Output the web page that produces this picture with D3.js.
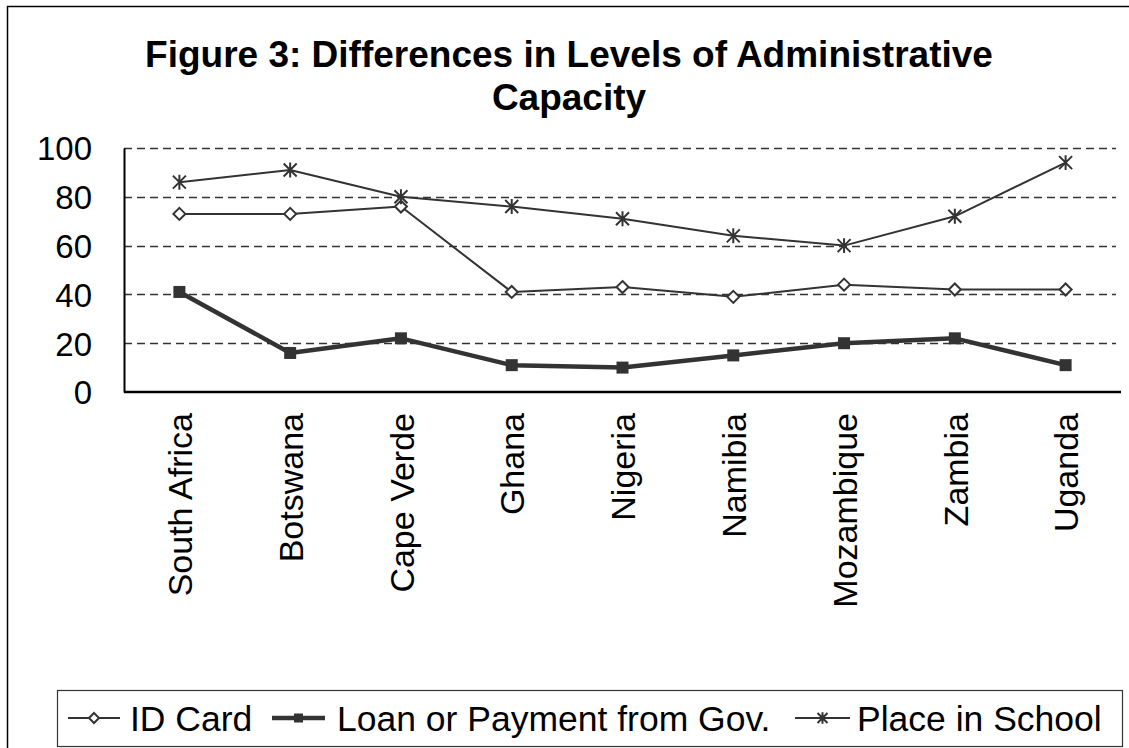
<!DOCTYPE html>
<html>
<head>
<meta charset="utf-8">
<script src="https://cdn.jsdelivr.net/npm/d3@7"></script>
<style>
  html, body { margin: 0; padding: 0; background: #fff; }
  svg { display: block; }
  text { font-family: "Liberation Sans", Arial, Helvetica, sans-serif; fill: #000; }
</style>
</head>
<body>
<svg id="chart" width="1129" height="748"></svg>
<script>
// Share of respondents (%) reporting each service, by country
const countries = ["South Africa", "Botswana", "Cape Verde", "Ghana", "Nigeria",
                   "Namibia", "Mozambique", "Zambia", "Uganda"];
const idCard = [73, 73, 76, 41, 43, 39, 44, 42, 42];
const loanPayment = [41, 16, 22, 11, 10, 15, 20, 22, 11];
const placeInSchool = [86, 91, 80, 76, 71, 64, 60, 72, 94];
const yTicks = [0, 20, 40, 60, 80, 100];
const titleLines = ["Figure 3: Differences in Levels of Administrative", "Capacity"];

const series = [
  { name: "ID Card", values: idCard, width: 2, marker: "diamond" },
  { name: "Loan or Payment from Gov.", values: loanPayment, width: 4.5, marker: "square" },
  { name: "Place in School", values: placeInSchool, width: 2, marker: "star" }
];

const svg = d3.select("#chart");
const ink = "#333";

// outer chart frame (left and top edges visible)
svg.append("rect")
  .attr("x", 7.5).attr("y", 6.5)
  .attr("width", 1200).attr("height", 800)
  .attr("fill", "none").attr("stroke", "#000").attr("stroke-width", 1.5);

// title
svg.append("g").selectAll("text").data(titleLines).join("text")
  .attr("x", 569)
  .attr("y", (d, i) => 67 + i * 43)
  .attr("text-anchor", "middle")
  .attr("font-size", 37)
  .attr("font-weight", "bold")
  .text(d => d);

const plot = { left: 124, right: 1121, top: 148, bottom: 392 };

const x = d3.scalePoint().domain(countries).range([plot.left, plot.right]).padding(0.5);
const y = d3.scaleLinear().domain([0, 100]).range([plot.bottom, plot.top]);

// dashed horizontal gridlines
svg.append("g").selectAll("line").data(yTicks.filter(t => t > 0)).join("line")
  .attr("x1", plot.left).attr("x2", plot.right - 5)
  .attr("y1", d => Math.round(y(d)) + 0.5).attr("y2", d => Math.round(y(d)) + 0.5)
  .attr("stroke", "#333").attr("stroke-width", 1.3)
  .attr("stroke-dasharray", "8,5");

// y axis
const yAxis = svg.append("g")
  .attr("transform", `translate(${plot.left},0)`)
  .call(d3.axisLeft(y).tickValues(yTicks).tickSize(0).tickPadding(32));
yAxis.select(".domain").attr("stroke", "#000").attr("stroke-width", 2);
yAxis.selectAll("text").attr("font-size", 33).attr("dy", "0.36em")
  .style("font-family", '"Liberation Sans", Arial, sans-serif');

// x axis with vertical category labels
const xAxis = svg.append("g")
  .attr("transform", `translate(0,${plot.bottom})`)
  .call(d3.axisBottom(x).tickSize(0).tickPadding(0));
xAxis.select(".domain").attr("stroke", "#000").attr("stroke-width", 2.5)
  .attr("d", `M${plot.left},0H${plot.right}`);
xAxis.selectAll(".tick text")
  .attr("font-size", 34)
  .style("font-family", '"Liberation Sans", Arial, sans-serif')
  .attr("text-anchor", "end")
  .attr("transform", "translate(0,21) rotate(-90)")
  .attr("x", 0).attr("y", 0).attr("dy", "0.36em");

// marker shapes
function markerPath(type, s) {
  if (type === "diamond") return `M0,${-s}L${s},0L0,${s}L${-s},0Z`;
  if (type === "square") return `M${-s},${-s}H${s}V${s}H${-s}Z`;
  return `M${-s},${-s}L${s},${s}M${-s},${s}L${s},${-s}M0,${-s * 1.15}V${s * 1.15}`;
}
function styleMarker(sel, type) {
  if (type === "diamond") sel.attr("fill", "#fff").attr("stroke", ink).attr("stroke-width", 2);
  else if (type === "square") sel.attr("fill", ink).attr("stroke", "none");
  else sel.attr("fill", "none").attr("stroke", ink).attr("stroke-width", 2);
}

const line = d3.line().x((d, i) => x(countries[i])).y(d => y(d));

series.forEach(s => {
  svg.append("path")
    .datum(s.values)
    .attr("d", line)
    .attr("fill", "none")
    .attr("stroke", ink)
    .attr("stroke-width", s.width)
    .attr("stroke-linejoin", "round");
  const size = s.marker === "diamond" ? 6 : s.marker === "square" ? 6 : 6.5;
  svg.append("g").selectAll("path").data(s.values).join("path")
    .attr("transform", (d, i) => `translate(${x(countries[i])},${y(d)})`)
    .attr("d", markerPath(s.marker, size))
    .call(sel => styleMarker(sel, s.marker));
});

// legend
const legend = svg.append("g");
legend.append("rect")
  .attr("x", 57.5).attr("y", 690.5).attr("width", 1065).attr("height", 56)
  .attr("fill", "#fff").attr("stroke", ink).attr("stroke-width", 1.2);

const legendItems = [
  { s: series[0], x0: 68, x1: 120, tx: 130 },
  { s: series[1], x0: 272, x1: 325, tx: 337 },
  { s: series[2], x0: 795, x1: 850, tx: 857 }
];
const ly = 718;
legendItems.forEach(it => {
  legend.append("line")
    .attr("x1", it.x0).attr("x2", it.x1).attr("y1", ly).attr("y2", ly)
    .attr("stroke", ink).attr("stroke-width", it.s.width);
  const ms = it.s.marker === "diamond" ? 5 : it.s.marker === "square" ? 4.5 : 5;
  legend.append("path")
    .attr("transform", `translate(${(it.x0 + it.x1) / 2},${ly})`)
    .attr("d", markerPath(it.s.marker, ms))
    .call(sel => styleMarker(sel, it.s.marker));
  legend.append("text")
    .attr("x", it.tx).attr("y", ly).attr("dy", "0.36em")
    .attr("font-size", 35.5)
    .text(it.s.name);
});
</script>
</body>
</html>
